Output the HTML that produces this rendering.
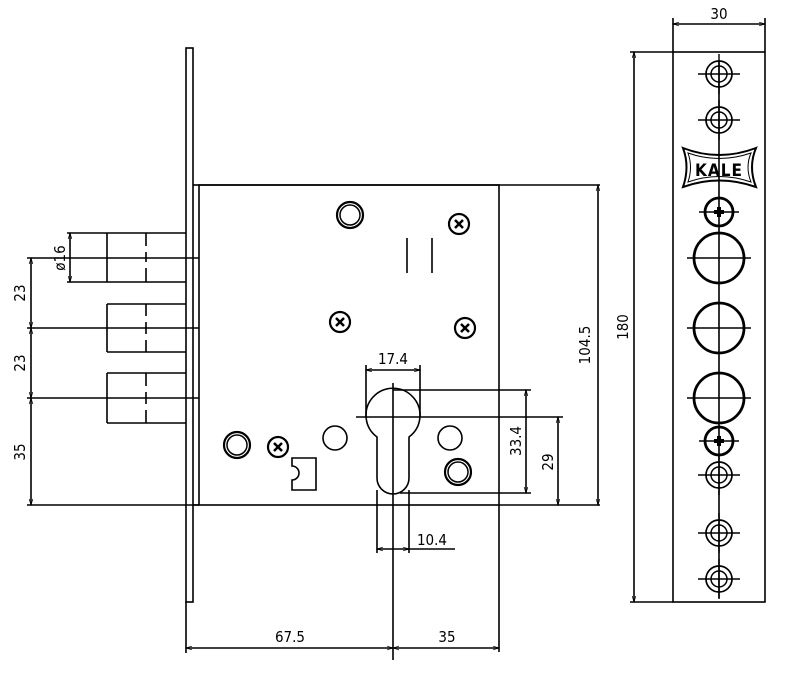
<!DOCTYPE html>
<html><head><meta charset="utf-8"><style>
body{margin:0;background:#fff}
text{font-family:"DejaVu Sans Condensed","DejaVu Sans","Liberation Sans",sans-serif;font-size:15px;fill:#000}
</style></head><body>
<svg width="800" height="670" viewBox="0 0 800 670" xmlns="http://www.w3.org/2000/svg">
<defs>
<marker id="a" viewBox="0 0 10 10" refX="10" refY="5" markerWidth="8" markerHeight="6" orient="auto-start-reverse" markerUnits="userSpaceOnUse"><path d="M0,2L10,5L0,8" fill="none" stroke="#000" stroke-width="1.2"/></marker>
<g id="ring"><circle r="13" fill="none" stroke="#000" stroke-width="2.2"/><circle r="10" fill="none" stroke="#000" stroke-width="1.5"/></g>
<g id="scr"><circle r="10" fill="none" stroke="#000" stroke-width="2.2"/><path d="M-4,-4L4,4M4,-4L-4,4" stroke="#000" stroke-width="2.5"/></g>
<g id="dr"><circle r="13" fill="none" stroke="#000" stroke-width="1.7"/><circle r="8" fill="none" stroke="#000" stroke-width="1.5"/><path d="M-21,0H21M0,-20V20" stroke="#000" stroke-width="1.4"/></g>
<g id="big"><circle r="25" fill="none" stroke="#000" stroke-width="2.8"/><path d="M-32,0H32" stroke="#000" stroke-width="1.4"/></g>
<g id="ps"><circle r="14" fill="none" stroke="#000" stroke-width="2.8"/><path d="M-20,0H20" stroke="#000" stroke-width="1.4"/><path d="M-5,0H5M0,-5V5" stroke="#000" stroke-width="4"/></g>
</defs>
<g stroke="#000" stroke-width="1.6" fill="none">
<rect x="186" y="48" width="7" height="554"/>
<rect x="199" y="185" width="300" height="320"/>
<line x1="193" y1="185" x2="199" y2="185"/><line x1="193" y1="505" x2="199" y2="505"/>
<path d="M107,233H186M107,282H186M107,233V282M146,233V246M146,252V262M146,268V282"/>
<path d="M67,233H107M67,282H107"/>
<path d="M107,304H186M107,352H186M107,304V352M146,304V316M146,322V334M146,340V352"/>
<path d="M107,373H186M107,423H186M107,373V423M146,373V386M146,392V404M146,410V423"/>
<path d="M27,258H199M27,328H199M27,398H199M27,505H199"/>
<line x1="31" y1="258" x2="31" y2="328" marker-start="url(#a)" marker-end="url(#a)"/>
<line x1="31" y1="328" x2="31" y2="398" marker-start="url(#a)" marker-end="url(#a)"/>
<line x1="31" y1="398" x2="31" y2="505" marker-start="url(#a)" marker-end="url(#a)"/>
<line x1="70" y1="233" x2="70" y2="282" marker-start="url(#a)" marker-end="url(#a)"/>
<path d="M407,238V273M432,238V273"/>
<path d="M292,458H316V490H292V480A7,7 0 0 0 292,466Z"/>
<circle cx="335" cy="438" r="12"/><circle cx="450" cy="438" r="12"/>
<path d="M377,437A27,27 0 1 1 409,437V478A16,16 0 0 1 377,478Z"/>
<path d="M393,383V560M356,417H563M393,390H531M400,493H531M499,505H600M199,185H600"/>
<line x1="526" y1="390" x2="526" y2="493" marker-start="url(#a)" marker-end="url(#a)"/>
<line x1="558" y1="417" x2="558" y2="505" marker-start="url(#a)" marker-end="url(#a)"/>
<line x1="598" y1="185" x2="598" y2="505" marker-start="url(#a)" marker-end="url(#a)"/>
<path d="M366,365V417M420,365V417"/>
<line x1="366" y1="370" x2="420" y2="370" marker-start="url(#a)" marker-end="url(#a)"/>
<path d="M377,490V553M409,490V553"/>
<line x1="377" y1="549" x2="409" y2="549" marker-start="url(#a)" marker-end="url(#a)"/>
<line x1="409" y1="549" x2="455" y2="549"/>
<path d="M186,602V653M393,560V660M499,505V652"/>
<line x1="186" y1="648" x2="393" y2="648" marker-start="url(#a)" marker-end="url(#a)"/>
<line x1="393" y1="648" x2="499" y2="648" marker-start="url(#a)" marker-end="url(#a)"/>
<rect x="673" y="52" width="92" height="550"/>
<path d="M673,52V18M765,52V18M630,52H673M630,602H673M719,60V598"/>
<line x1="673" y1="24" x2="765" y2="24" marker-start="url(#a)" marker-end="url(#a)"/>
<line x1="634" y1="52" x2="634" y2="602" marker-start="url(#a)" marker-end="url(#a)"/>
<path d="M683,148Q719,162 756,148Q748,167 756,187Q719,174 683,187Q690,167 683,148Z" stroke-width="2"/>
<path d="M688,153Q719,164 751,153Q745,167 751,182Q719,171 688,182Q693,167 688,153Z" stroke-width="1"/>
</g>
<use href="#ring" x="350" y="215"/><use href="#ring" x="237" y="445"/><use href="#ring" x="458" y="472"/>
<use href="#scr" x="459" y="224"/><use href="#scr" x="340" y="322"/><use href="#scr" x="465" y="328"/><use href="#scr" x="278" y="447"/>
<use href="#dr" x="719" y="74"/><use href="#dr" x="719" y="120"/><use href="#dr" x="719" y="475"/><use href="#dr" x="719" y="533"/><use href="#dr" x="719" y="579"/>
<use href="#ps" x="719" y="212"/><use href="#ps" x="719" y="441"/>
<use href="#big" x="719" y="258"/><use href="#big" x="719" y="328"/><use href="#big" x="719" y="398"/>
<text x="719" y="176" text-anchor="middle" style="font-size:17px;font-weight:bold;letter-spacing:1px">KALE</text>
<text x="719" y="19" text-anchor="middle">30</text>
<text transform="translate(628,327) rotate(-90)" text-anchor="middle">180</text>
<text transform="translate(590,345) rotate(-90)" text-anchor="middle">104.5</text>
<text transform="translate(521,441) rotate(-90)" text-anchor="middle">33.4</text>
<text transform="translate(553,462) rotate(-90)" text-anchor="middle">29</text>
<text transform="translate(25,293) rotate(-90)" text-anchor="middle">23</text>
<text transform="translate(25,363) rotate(-90)" text-anchor="middle">23</text>
<text transform="translate(25,452) rotate(-90)" text-anchor="middle">35</text>
<text transform="translate(65,258) rotate(-90)" text-anchor="middle">ø16</text>
<text x="393" y="364" text-anchor="middle">17.4</text>
<text x="432" y="545" text-anchor="middle">10.4</text>
<text x="290" y="642" text-anchor="middle">67.5</text>
<text x="447" y="642" text-anchor="middle">35</text>
</svg>
</body></html>
